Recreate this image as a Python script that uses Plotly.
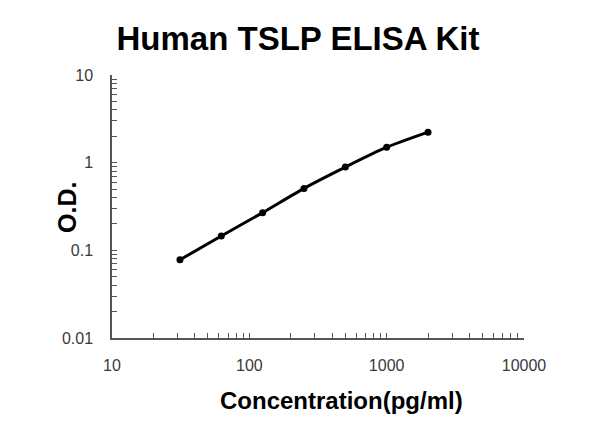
import plotly.graph_objects as go

conc = [31.25, 62.5, 125, 250, 500, 1000, 2000]
od = [0.078, 0.146, 0.269, 0.509, 0.89, 1.5, 2.23]

x_tickvals = [10, 100, 1000, 10000]
x_ticktext = ["10", "100", "1000", "10000"]
y_tickvals = [0.01, 0.1, 1, 10]
y_ticktext = ["0.01", "0.1", "1", "10"]

# minor tick positions (2..9 within each decade)
x_minor = [m * d for d in [10, 100, 1000] for m in range(2, 10)]
y_minor = [m * d for d in [0.01, 0.1, 1] for m in range(2, 10)]

fig = go.Figure()
fig.add_trace(go.Scatter(
    x=conc, y=od, mode="lines+markers",
    line=dict(color="black", width=3, shape="spline", smoothing=0.6),
    marker=dict(color="black", size=7),
    showlegend=False,
))

font_family = "Liberation Sans, Arial, sans-serif"
axis_col = "#555555"
W, H = 600, 447
fig.update_layout(
    width=W, height=H,
    paper_bgcolor="white", plot_bgcolor="white",
    margin=dict(l=104, r=84, t=67, b=117),
    title=dict(text="<b>Human TSLP ELISA Kit</b>", x=290 / W, xanchor="center",
               y=1 - 30 / H, yanchor="middle",
               font=dict(family=font_family, size=33, color="black")),
    font=dict(family=font_family, color="#333333"),
)
fig.update_xaxes(
    type="log", range=[1, 4],
    tickvals=x_tickvals, ticktext=x_ticktext,
    showline=True, linecolor=axis_col, linewidth=1.5,
    ticks="inside", ticklen=5, tickcolor=axis_col,
    minor=dict(tickvals=x_minor, ticks="inside", ticklen=5,
               tickcolor=axis_col, showgrid=False),
    showgrid=False, zeroline=False,
    tickfont=dict(size=16, color="#3a3a3a"),
    ticklabelstandoff=12,
)
fig.update_yaxes(
    type="log", range=[-2, 1],
    tickvals=y_tickvals, ticktext=y_ticktext,
    showline=True, linecolor=axis_col, linewidth=1.5,
    ticks="inside", ticklen=5, tickcolor=axis_col,
    minor=dict(tickvals=y_minor, ticks="inside", ticklen=5,
               tickcolor=axis_col, showgrid=False),
    showgrid=False, zeroline=False,
    tickfont=dict(size=16, color="#3a3a3a"),
    ticklabelstandoff=14,
)
# axis titles
fig.add_annotation(text="<b>Concentration(pg/ml)</b>", xref="paper", yref="paper",
                   x=(333 - 104) / 412, y=-(392 - 67 - 263) / 263,
                   xanchor="center", yanchor="middle", showarrow=False,
                   font=dict(family=font_family, size=24, color="black"))
fig.add_annotation(text="<b>O.D.</b>", xref="paper", yref="paper",
                   x=-(104 - 59) / 412, y=1 - (200 - 67) / 263,
                   xanchor="center", yanchor="middle", textangle=-90, showarrow=False,
                   font=dict(family=font_family, size=25, color="black"))

fig.write_html("out.html")
